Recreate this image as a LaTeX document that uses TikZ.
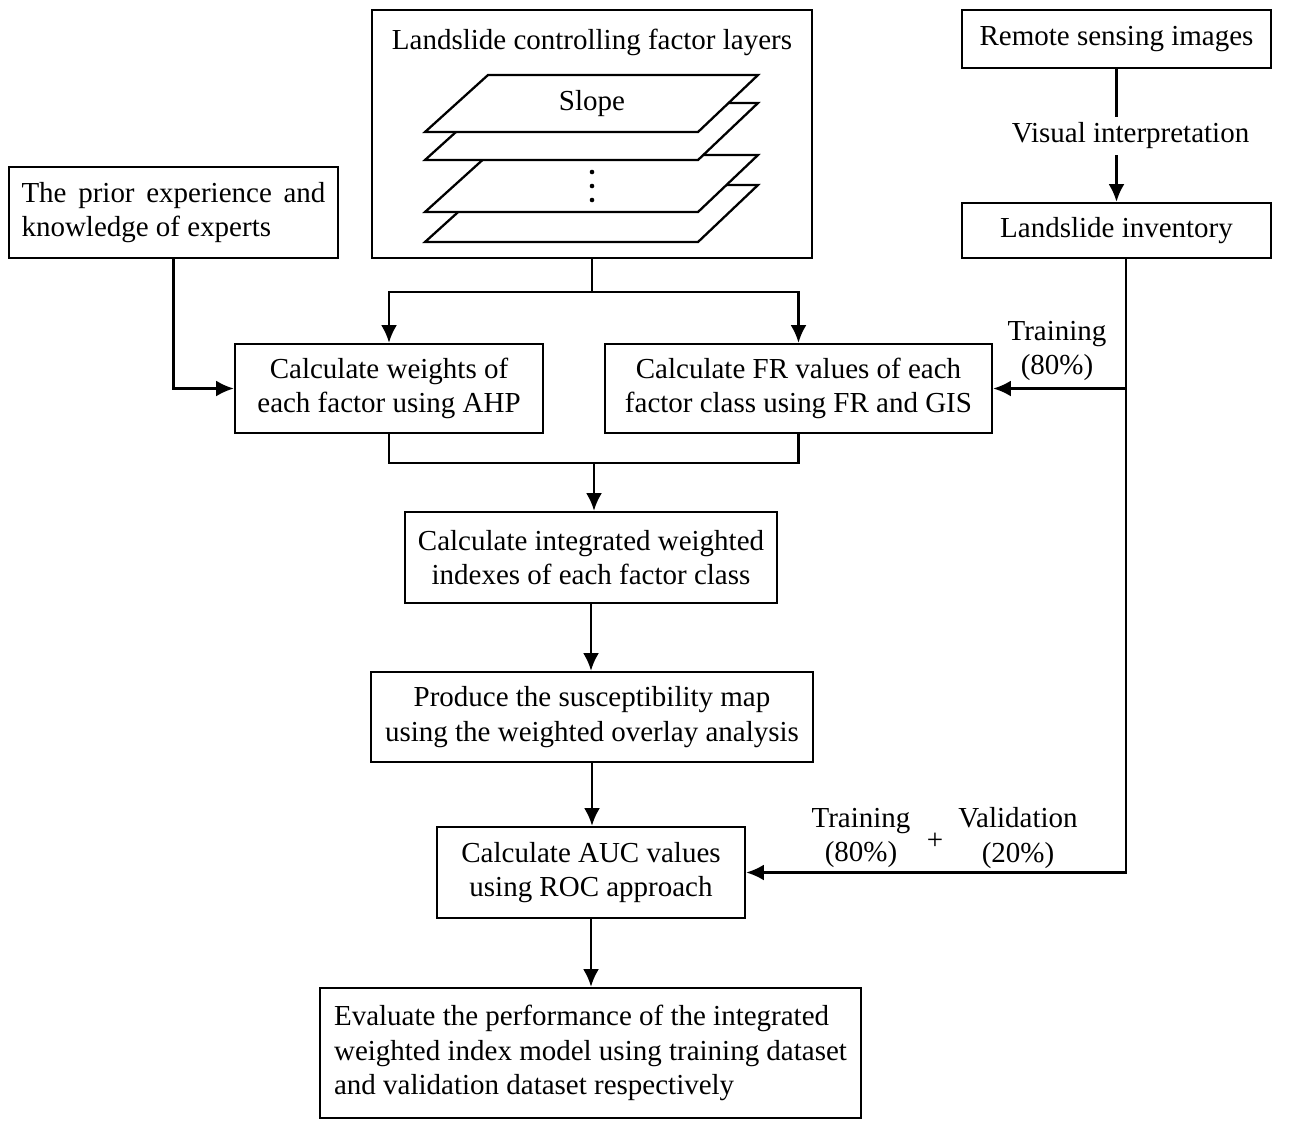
\documentclass[tikz,border=0pt]{standalone}
\usepackage{fontspec}
\setmainfont{Liberation Serif}
\usetikzlibrary{arrows.meta}

\begin{document}
\begin{tikzpicture}[x=0.02cm,y=-0.02cm,
  font=\fontsize{16.5}{19.8}\selectfont,
  line width=1.4pt,
  box/.style={draw,align=center,inner sep=0pt,fill=white},
  arr/.style={-{Latex[length=10pt,width=9pt]}},
  layer/.style={draw,fill=white,line width=1.3pt}]

\useasboundingbox (0,0) rectangle (1291,1120);


\node [box,minimum width=8.8cm,minimum height=4.96cm] (layers) at (592,134) {};
\node (ltitle) at (592,42) {Landslide controlling factor layers};

\foreach \t in {185,155,103,75}
  \draw [layer] (425,{\t+57}) -- (698,{\t+57}) -- (758,\t) -- (488,\t) -- cycle;

\node (slope) at (592,104) {Slope};
\foreach \d in {172,186,200}
  \fill (592,\d) circle (2.3);


\node [box,minimum width=6.18cm,minimum height=1.16cm] (rsi) at (1116.5,39) {Remote sensing images};
\node [box,minimum width=6.18cm,minimum height=1.1cm] (inv) at (1116.5,230.5) {Landslide inventory};
\node [box,align=left,minimum width=6.58cm,minimum height=1.82cm] (prior) at (173.5,212.5)
  {\makebox[6.08cm][s]{The prior experience and}\\knowledge of experts};

\node [box,minimum width=6.16cm,minimum height=1.78cm] (weights) at (389,388.5) {Calculate weights of\\each factor using AHP};
\node [box,minimum width=7.74cm,minimum height=1.78cm] (fr) at (798.5,388.5) {Calculate FR values of each\\factor class using FR and GIS};
\node [box,minimum width=7.44cm,minimum height=1.82cm] (index) at (591,557.5) {Calculate integrated weighted\\indexes of each factor class};
\node [box,minimum width=8.84cm,minimum height=1.8cm] (smap) at (592,717) {Produce the susceptibility map\\using the weighted overlay analysis};
\node [box,minimum width=6.16cm,minimum height=1.82cm] (auc) at (591,872.5) {Calculate AUC values\\using ROC approach};
\node [box,align=left,minimum width=10.82cm,minimum height=2.6cm] (eval) at (590.5,1053)
  {Evaluate the performance of the integrated\\weighted index model using training dataset\\and validation dataset respectively};


% factor layers to both calculations
\coordinate (fork) at (592,292);
\draw (layers.south) -- (fork);
\draw [arr] (fork) -| (weights.north);
\draw [arr] (fork) -| (fr.north);

\draw [arr] (prior.south) |- (weights.west);

% inventory branch
\draw [arr] (rsi) -- node [fill=white,xshift=8] (visual) {Visual interpretation} (inv);

\coordinate (tap) at (1126,258);
\draw [arr] (tap) |- (fr.east);
\draw [arr] (tap) |- (auc.east);

\node [align=center] (train1) at (1057,351) {Training\\(80\%)};
\node [align=center] (train2) at (861,838) {Training\\(80\%)};
\node (plus) at (935,841) {+};
\node [align=center] (valid) at (1018,838) {Validation\\(20\%)};

% main chain
\coordinate (join) at (594,463);
\draw (weights.south) |- (join) -| (fr.south);
\draw [arr] (join) -- (join |- index.north);
\draw [arr] (index.south) -- (index.south |- smap.north);
\draw [arr] (smap.south) -- (smap.south |- auc.north);
\draw [arr] (auc.south) -- (auc.south |- eval.north);

\end{tikzpicture}
\end{document}
